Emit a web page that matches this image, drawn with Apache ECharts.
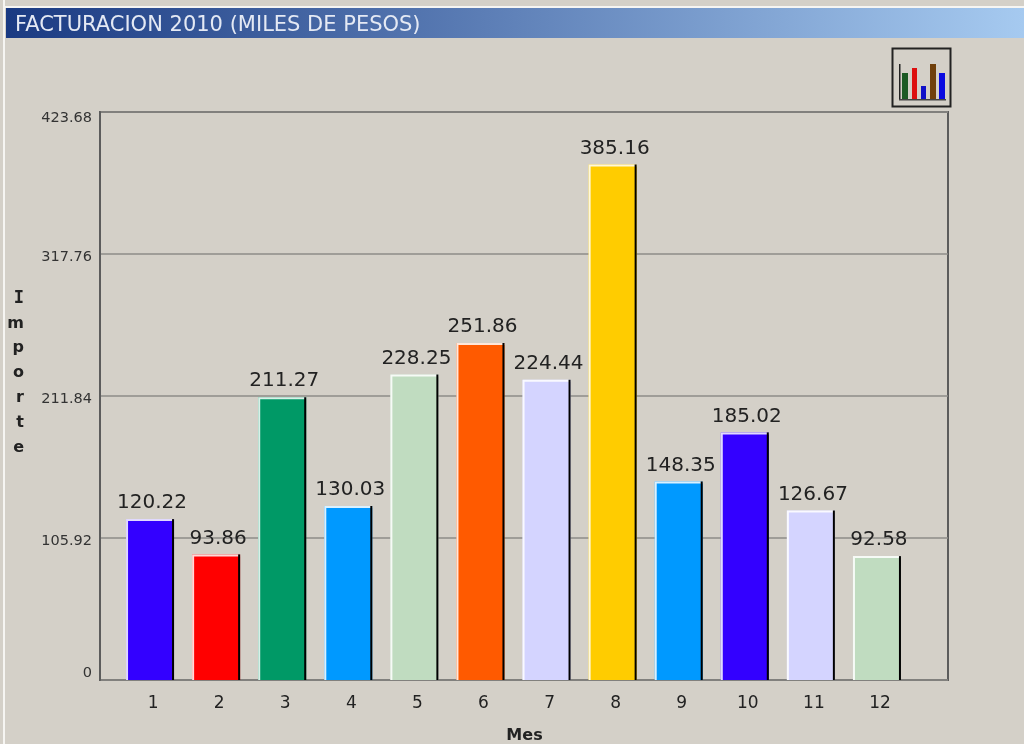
<!DOCTYPE html>
<html><head><meta charset="utf-8">
<style>html,body{margin:0;padding:0;background:#d4d0c8}#c{width:1024px;height:744px}</style>
<script src="https://cdn.jsdelivr.net/npm/echarts@6/dist/echarts.min.js"></script>
</head><body><div id="c"></div>
<script>
const months = ['1','2','3','4','5','6','7','8','9','10','11','12'];
const importe = [120.22,93.86,211.27,130.03,228.25,251.86,224.44,385.16,148.35,185.02,126.67,92.58];
const barColors = ['#3300ff','#ff0000','#009966','#0099ff','#c0dcc0','#ff5a00','#d4d4ff','#ffcc00','#0099ff','#3300ff','#d4d4ff','#c0dcc0'];
const yStep = 105.92, yMax = 423.68;
const titleText = 'FACTURACION 2010 (MILES DE PESOS)';
const font = '"DejaVu Sans", Verdana, sans-serif';
const BAR_W = 48;

const chart = echarts.init(document.getElementById('c'), null, {renderer:'canvas'});

function iconRect(x,y,w,h,fill){return {type:'rect',shape:{x,y,width:w,height:h},style:{fill},silent:true};}

chart.setOption({
  animation:false,
  backgroundColor:'#d4d0c8',
  textStyle:{fontFamily:font},
  title:{text:titleText,left:10,top:10,textStyle:{color:'#e4e9f4',fontSize:21,fontWeight:'normal',fontFamily:font}},
  grid:[
    {left:100,top:112,width:848,height:568,show:true,backgroundColor:'transparent',borderColor:'#5c5c5c',borderWidth:2,outerBoundsMode:'none'},
    {left:117,top:113,width:793,height:567,show:false,outerBoundsMode:'none'}
  ],
  xAxis:[
    {gridIndex:0,type:'category',data:months,show:false},
    {gridIndex:1,type:'category',data:months,
      name:'Mes',nameLocation:'middle',nameGap:48,
      nameTextStyle:{fontFamily:font,fontWeight:'bold',fontSize:16,color:'#222',padding:[0,0,0,22]},
      axisLine:{show:false},axisTick:{show:false},
      axisLabel:{margin:15,fontSize:17,color:'#222',fontFamily:font,padding:[0,0,0,6]}}
  ],
  yAxis:[
    {gridIndex:0,type:'value',min:0,max:yMax,interval:yStep,
      name:'{i|I}\n{l|m}\n{l|p}\n{l|o}\n{l|r}\n{l|t}\n{l|e}',nameLocation:'middle',nameRotate:0,nameGap:76,
      nameTextStyle:{color:'#222',padding:[0,0,46,0],
        rich:{
          i:{fontFamily:'"DejaVu Sans Mono", monospace',fontWeight:'bold',fontSize:17,color:'#222',lineHeight:24.8},
          l:{fontFamily:font,fontWeight:'bold',fontSize:16,color:'#222',lineHeight:24.8}
        }},
      axisLine:{show:true,lineStyle:{color:'#5c5c5c',width:2}},
      axisTick:{show:false},
      splitLine:{show:true,lineStyle:{color:'#8e8c88',width:1.5}},
      axisLabel:{margin:8,color:'#333',fontFamily:font,fontSize:14.5,
        formatter:v=>{const t=String(+v.toFixed(2));return v===0?'{z|'+t+'}':(v>=yMax?'{x|'+t+'}':'{m|'+t+'}');},
        rich:{
          m:{fontSize:14.5,color:'#333',fontFamily:font,padding:[6,0,0,0]},
          x:{fontSize:14.5,color:'#333',fontFamily:font,padding:[12,0,0,0]},
          z:{fontSize:14.5,color:'#333',fontFamily:font,padding:[0,0,14,0]}
        }}},
    {gridIndex:1,type:'value',min:0,max:yMax,interval:yStep,show:false}
  ],
  series:[
    {type:'bar',xAxisIndex:1,yAxisIndex:1,barWidth:BAR_W,
      data:importe.map((v,i)=>({value:v,itemStyle:{color:barColors[i]}})),
      label:{show:true,position:'top',distance:6,offset:[2,0],fontSize:20,color:'#222',fontFamily:font,
        formatter:p=>p.value.toFixed(2)},z:3},
    {type:'custom',xAxisIndex:1,yAxisIndex:1,z:4,silent:true,
      data:importe.map((v,i)=>[i,v]),
      renderItem(params,api){
        const top=api.coord([api.value(0),api.value(1)]);
        const base=api.coord([api.value(0),0]);
        const l=top[0]-BAR_W/2, r=top[0]+BAR_W/2, t=top[1], b=base[1];
        return {type:'group',children:[
          {type:'polyline',shape:{points:[[l+1,b],[l+1,t+1],[r,t+1]]},style:{fill:null,stroke:'#ffffff',lineWidth:2,opacity:.85}},
          {type:'line',shape:{x1:r-1,y1:t,x2:r-1,y2:b},style:{stroke:'#000000',lineWidth:2}}
        ]};
      }}
  ],
  graphic:[
    {type:'rect',z:-1,shape:{x:3,y:0,width:2,height:744},style:{fill:'#f6f5f2'},silent:true},
    {type:'rect',z:-1,shape:{x:3,y:6,width:1021,height:2},style:{fill:'#f6f5f2'},silent:true},
    {type:'rect',z:-1,shape:{x:6,y:8,width:1018,height:30},
      style:{fill:new echarts.graphic.LinearGradient(0,0,1,0,[{offset:0,color:'#1a3a82'},{offset:1,color:'#a6caf0'}])},silent:true},
    {type:'group',z:10,children:[
      {type:'rect',shape:{x:892.5,y:48.5,width:58,height:58},style:{fill:'none',stroke:'#222',lineWidth:2},silent:true},
      iconRect(899,64,1.5,36,'#222'),iconRect(899,99,47,1.5,'#444'),
      iconRect(902,73,6,26,'#1c5a24'),iconRect(912,68,5,31,'#dd0f0f'),
      iconRect(921,86,5,13,'#1010c8'),iconRect(930,64,6,35,'#70400c'),iconRect(939,73,6,26,'#0a0ae0')
    ]}
  ]
});
</script></body></html>
